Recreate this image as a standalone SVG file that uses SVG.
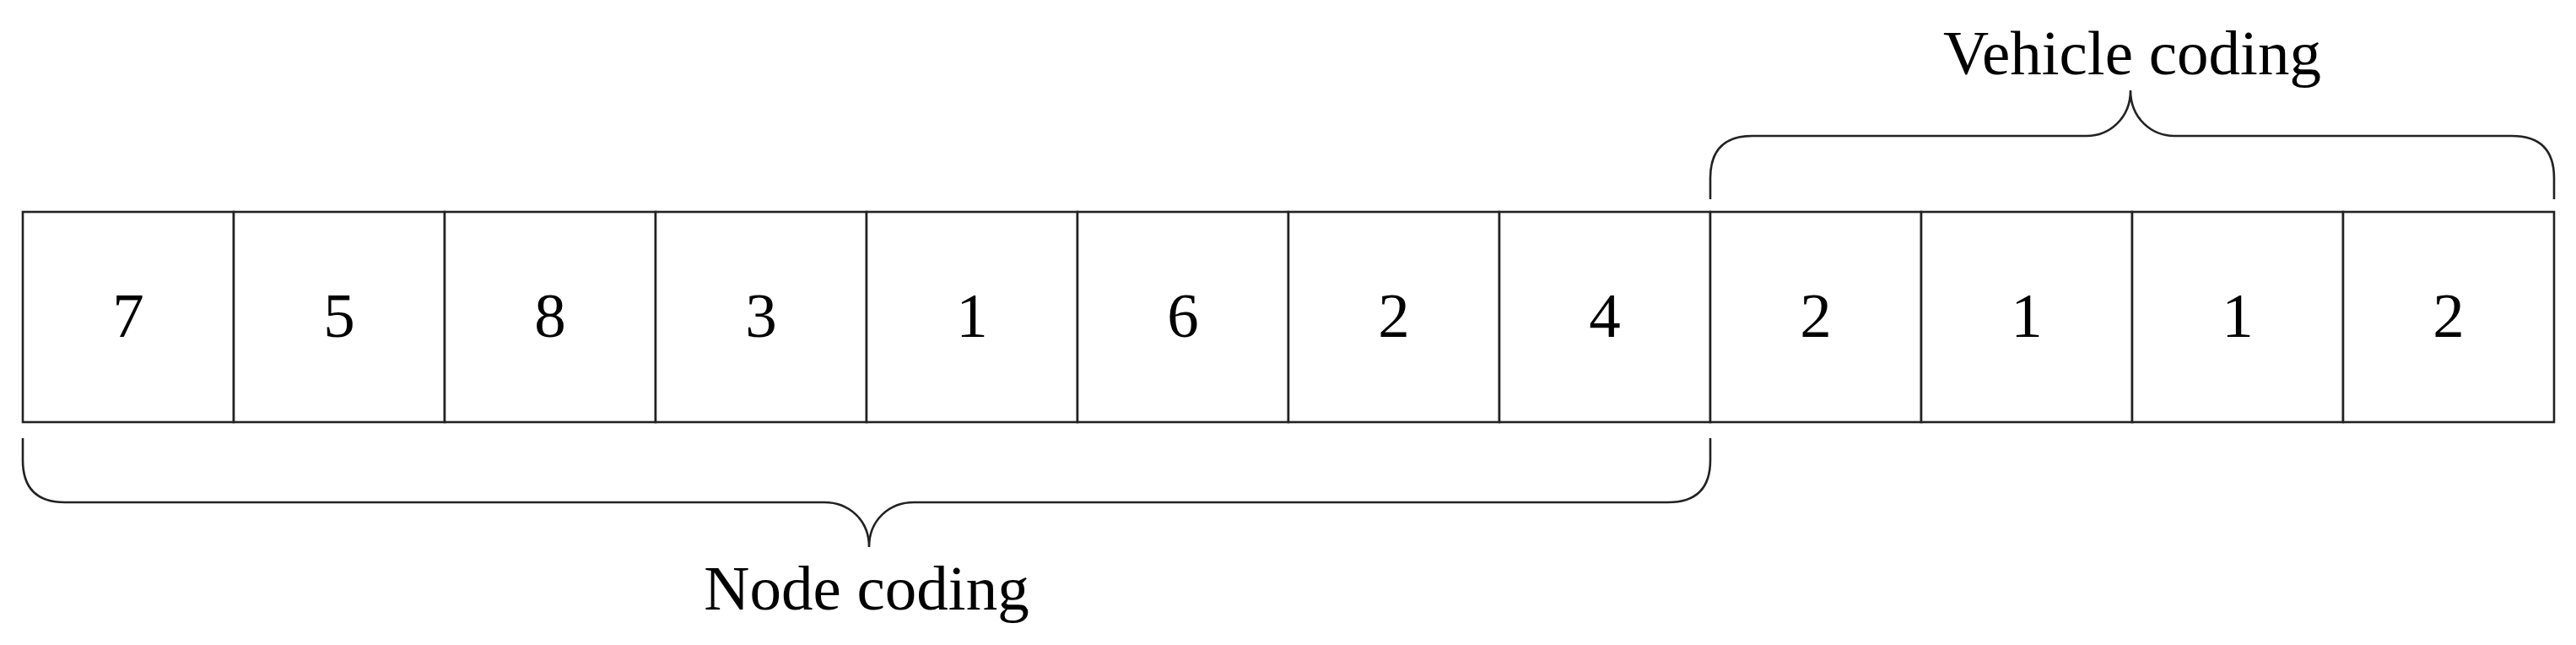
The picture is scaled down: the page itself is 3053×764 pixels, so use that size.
<svg xmlns="http://www.w3.org/2000/svg" width="3053" height="764" viewBox="0 0 3053 764">
<style>
.cell{fill:#fff;stroke:#222;stroke-width:2.6}
.num{font-family:"Liberation Serif","Times New Roman",serif;font-size:75px;fill:#000;text-anchor:middle}
.lbl{font-family:"Liberation Serif","Times New Roman",serif;font-size:75px;fill:#000;text-anchor:middle}
.brace{fill:none;stroke:#222;stroke-width:2.6}
</style>
<rect width="3053" height="764" fill="#fff"/>
<g id="cells">
<g id="c1"><rect class="cell" x="27" y="251" width="250" height="249"/><text class="num" x="152" y="399">7</text></g>
<g id="c2"><rect class="cell" x="277" y="251" width="250" height="249"/><text class="num" x="402" y="399">5</text></g>
<g id="c3"><rect class="cell" x="527" y="251" width="250" height="249"/><text class="num" x="652" y="399">8</text></g>
<g id="c4"><rect class="cell" x="777" y="251" width="250" height="249"/><text class="num" x="902" y="399">3</text></g>
<g id="c5"><rect class="cell" x="1027" y="251" width="250" height="249"/><text class="num" x="1152" y="399">1</text></g>
<g id="c6"><rect class="cell" x="1277" y="251" width="250" height="249"/><text class="num" x="1402" y="399">6</text></g>
<g id="c7"><rect class="cell" x="1527" y="251" width="250" height="249"/><text class="num" x="1652" y="399">2</text></g>
<g id="c8"><rect class="cell" x="1777" y="251" width="250" height="249"/><text class="num" x="1902" y="399">4</text></g>
<g id="c9"><rect class="cell" x="2027" y="251" width="250" height="249"/><text class="num" x="2152" y="399">2</text></g>
<g id="c10"><rect class="cell" x="2277" y="251" width="250" height="249"/><text class="num" x="2402" y="399">1</text></g>
<g id="c11"><rect class="cell" x="2527" y="251" width="250" height="249"/><text class="num" x="2652" y="399">1</text></g>
<g id="c12"><rect class="cell" x="2777" y="251" width="250" height="249"/><text class="num" x="2902" y="399">2</text></g>
</g>
<g id="connectors">
<path class="brace" d="M2027,236 L2027,211 Q2027,161 2077,161 L2473,161 C2500,161 2525,140 2525,107 C2525,140 2550,161 2577,161 L2977,161 Q3027,161 3027,211 L3027,236"/>
<path class="brace" d="M27,519 L27,545 Q27,595 77,595 L977,595 C1005,595 1030,615 1030,648 C1030,615 1055,595 1083,595 L1977,595 Q2027,595 2027,545 L2027,519"/>
</g>
<g id="labels">
<text class="lbl" x="2527" y="88">Vehicle coding</text>
<text class="lbl" x="1027" y="722">Node coding</text>
</g>
</svg>
